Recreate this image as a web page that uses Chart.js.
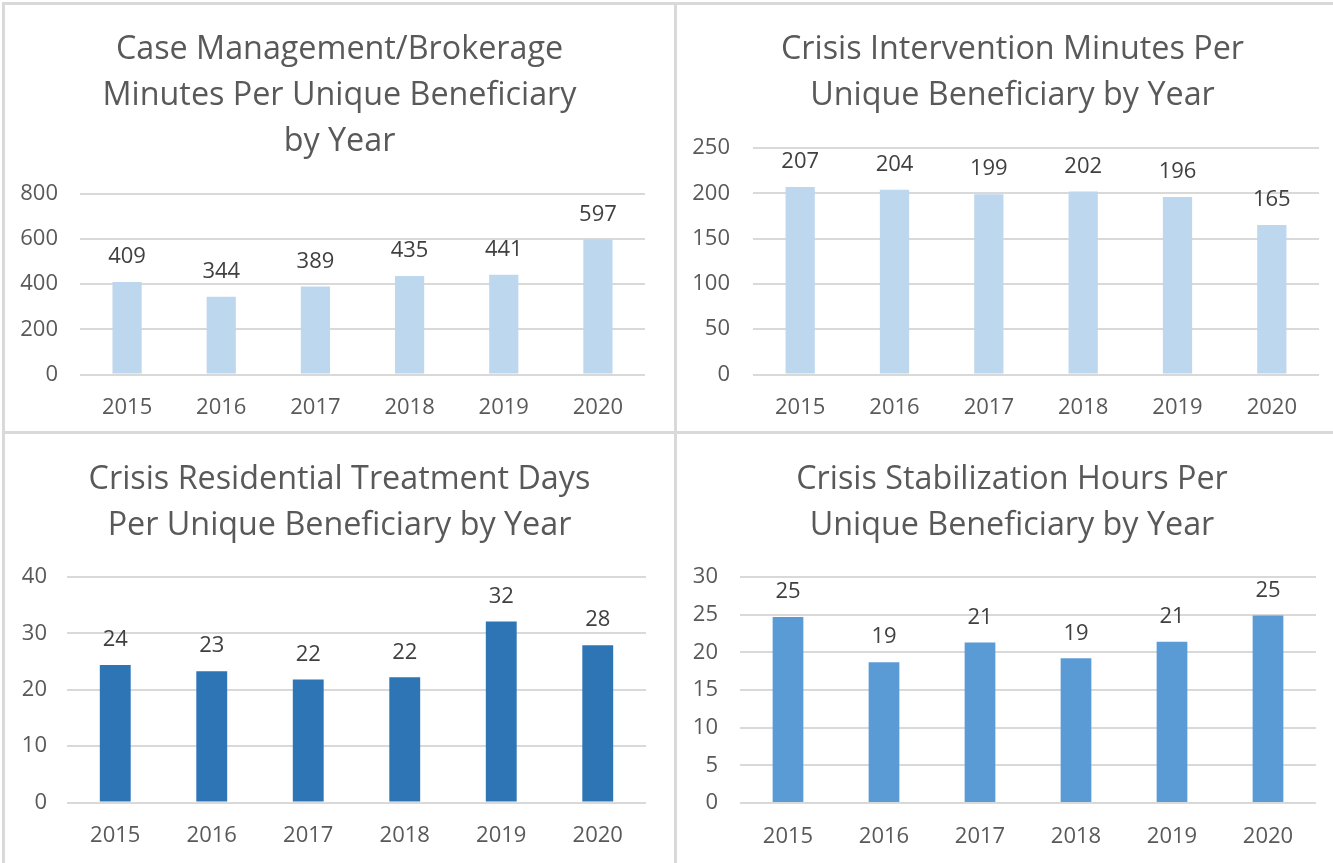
<!DOCTYPE html>
<html>
<head>
<meta charset="utf-8">
<title>Per Unique Beneficiary by Year</title>
<script src="https://cdn.jsdelivr.net/npm/chart.js@4.4.0/dist/chart.umd.min.js"></script>
<style>
    body { margin: 0; background: #fff; width: 1333px; height: 863px; position: relative; overflow: hidden; }
    .panel { position: absolute; }
    .panel canvas { display: block; }
    .rule { position: absolute; background: #d9d9d9; }
</style>
</head>
<body>
<div class="panel" style="left:0;top:0;width:675px;height:432px"><canvas id="caseChart"></canvas></div>
<div class="panel" style="left:675px;top:0;width:658px;height:432px"><canvas id="interventionChart"></canvas></div>
<div class="panel" style="left:0;top:432px;width:675px;height:431px"><canvas id="residentialChart"></canvas></div>
<div class="panel" style="left:675px;top:432px;width:658px;height:431px"><canvas id="stabilizationChart"></canvas></div>

<div class="rule" style="left:2px;top:2px;width:1331px;height:3px"></div>
<div class="rule" style="left:2px;top:2px;width:3px;height:861px"></div>
<div class="rule" style="left:674px;top:2px;width:3px;height:861px"></div>
<div class="rule" style="left:2px;top:431px;width:1331px;height:3px"></div>

<script>
const years = ['2015', '2016', '2017', '2018', '2019', '2020'];

const caseMgmtMinutes = [409, 344, 389, 435, 441, 597];
const interventionMinutes = [207, 204, 199, 202, 196, 165];
const residentialDays = [24.4, 23.3, 21.8, 22.2, 32.1, 27.9];
const stabilizationHours = [24.7, 18.7, 21.3, 19.2, 21.4, 24.9];

const caseAxis = [0, 800, 200];          // min, max, step
const interventionAxis = [0, 250, 50];
const residentialAxis = [0, 40, 10];
const stabilizationAxis = [0, 30, 5];

const caseTitle = ['Case Management/Brokerage', 'Minutes Per Unique Beneficiary', 'by Year'];
const interventionTitle = ['Crisis Intervention Minutes Per', 'Unique Beneficiary by Year'];
const residentialTitle = ['Crisis Residential Treatment Days', 'Per Unique Beneficiary by Year'];
const stabilizationTitle = ['Crisis Stabilization Hours Per', 'Unique Beneficiary by Year'];

Chart.defaults.font.family = "'Open Sans', sans-serif";
Chart.defaults.color = '#595959';

// values above bars, rounded like the original labels
const barLabels = {
    id: 'barLabels',
    afterDatasetsDraw(chart) {
        const ctx = chart.ctx;
        const values = chart.data.datasets[0].data;
        ctx.save();
        ctx.fillStyle = '#404040';
        ctx.font = "22px 'Open Sans'";
        ctx.textAlign = 'center';
        ctx.textBaseline = 'middle';
        chart.getDatasetMeta(0).data.forEach((bar, i) => {
            ctx.fillText(Math.round(values[i]), bar.x, bar.y - 25);
        });
        ctx.restore();
    }
};

// title centred on the whole panel (the built-in one centres on the padded box)
const panelTitle = {
    id: 'panelTitle',
    afterDraw(chart, args, opts) {
        const ctx = chart.ctx;
        ctx.save();
        ctx.fillStyle = '#595959';
        ctx.font = "32.3px 'Open Sans'";
        ctx.textAlign = 'center';
        ctx.textBaseline = 'middle';
        opts.lines.forEach((line, i) => {
            ctx.fillText(line, opts.x, opts.y + i * 46);
        });
        ctx.restore();
    }
};

function makeChart(id, o) {
    const canvas = document.getElementById(id);
    canvas.width = o.w;
    canvas.height = o.h;
    return new Chart(canvas, {
        type: 'bar',
        data: {
            labels: years,
            datasets: [{
                data: o.values,
                backgroundColor: o.color,
                borderWidth: 0,
                categoryPercentage: 1,
                barPercentage: o.barPct
            }]
        },
        options: {
            responsive: false,
            animation: false,
            layout: {
                padding: { left: 0, top: o.top, right: o.w - o.right, bottom: o.h - o.bottom - 50 }
            },
            plugins: {
                legend: { display: false },
                tooltip: { enabled: false },
                title: { display: false },
                panelTitle: { lines: o.title, x: o.titleX, y: o.titleY }
            },
            scales: {
                x: {
                    grid: { display: false },
                    border: { display: false },
                    ticks: { color: '#595959', font: { size: 22 }, padding: 12.5 },
                    afterFit(s) { s.height = 50; }
                },
                y: {
                    min: o.axis[0],
                    max: o.axis[1],
                    ticks: { stepSize: o.axis[2], color: '#595959', font: { size: 22 }, padding: o.yPad },
                    grid: { color: '#d9d9d9', lineWidth: 2, drawTicks: false },
                    border: { display: false },
                    afterFit(s) { s.width = o.left; }
                }
            }
        },
        plugins: [barLabels, panelTitle]
    });
}

makeChart('caseChart', {
    w: 675, h: 432, left: 80, right: 645, top: 193.5, bottom: 374.5,
    titleX: 339.5, titleY: 50, title: caseTitle, values: caseMgmtMinutes, axis: caseAxis,
    color: '#bdd7ee', barPct: 0.31, yPad: 22
});
makeChart('interventionChart', {
    w: 658, h: 432, left: 78, right: 644, top: 148, bottom: 374.5,
    titleX: 337.5, titleY: 50, title: interventionTitle, values: interventionMinutes, axis: interventionAxis,
    color: '#bdd7ee', barPct: 0.31, yPad: 23
});
makeChart('residentialChart', {
    w: 675, h: 431, left: 67, right: 646, top: 145, bottom: 370.5,
    titleX: 339.5, titleY: 48, title: residentialTitle, values: residentialDays, axis: residentialAxis,
    color: '#2e75b6', barPct: 0.32, yPad: 20
});
makeChart('stabilizationChart', {
    w: 658, h: 431, left: 65, right: 641, top: 145, bottom: 371,
    titleX: 337, titleY: 48, title: stabilizationTitle, values: stabilizationHours, axis: stabilizationAxis,
    color: '#5b9bd5', barPct: 0.32, yPad: 22
});
</script>
</body>
</html>
